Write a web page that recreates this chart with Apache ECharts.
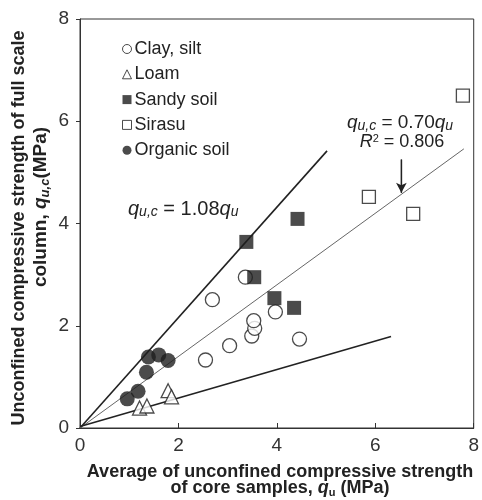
<!DOCTYPE html>
<html>
<head>
<meta charset="utf-8">
<script src="https://cdn.jsdelivr.net/npm/echarts@6/dist/echarts.min.js"></script>
<style>
html,body{margin:0;padding:0;background:#fff;}
#chart{width:482px;height:500px;}
</style>
</head>
<body>
<div id="chart"></div>
<script>
// ---- data ----
const xTicks = [0, 2, 4, 6, 8];
const yTicks = [0, 2, 4, 6, 8];

const clayX = [2.55, 3.04, 2.69, 3.36, 3.49, 3.55, 3.53, 3.97, 4.46];
const clayY = [1.33, 1.61, 2.51, 2.95, 1.80, 1.95, 2.10, 2.27, 1.74];

const loamX = [1.21, 1.36, 1.79, 1.86];
const loamY = [0.39, 0.43, 0.73, 0.61];

const sandyX = [3.38, 3.54, 3.95, 4.35, 4.42];
const sandyY = [3.64, 2.95, 2.54, 2.35, 4.09];

const sirasuX = [5.87, 6.77, 7.78];
const sirasuY = [4.52, 4.19, 6.50];

const organicX = [0.96, 1.18, 1.35, 1.39, 1.60, 1.79];
const organicY = [0.57, 0.72, 1.09, 1.39, 1.43, 1.32];

const upperLineX = [0, 5.02];
const upperLineY = [0, 5.42];
const fitLineX = [0, 7.80];
const fitLineY = [0, 5.46];
const lowerLineX = [0, 6.32];
const lowerLineY = [0.03, 1.79];

const arrowX = [6.53, 6.53];
const arrowY = [5.25, 4.60];

const seriesNames = ['Clay, silt', 'Loam', 'Sandy soil', 'Sirasu', 'Organic soil'];

// ---- build ----
const pairs = (xs, ys) => xs.map((x, i) => [x, ys[i]]);
const INK = '#1e1e1e';
const FONT = '"Liberation Sans", Arial, sans-serif';

const chart = echarts.init(document.getElementById('chart'), null, {renderer: 'canvas'});

const openStyle = {color: '#fff', borderColor: INK, borderWidth: 1.3};
const fillStyle = {color: INK, borderColor: INK, borderWidth: 0};

const option = {
  backgroundColor: '#fff',
  animation: false,
  textStyle: {fontFamily: FONT},
  grid: {left: 80, right: 5, top: 19, bottom: 72, show: true, borderColor: '#333', borderWidth: 1, containLabel: false},
  xAxis: {
    type: 'value', min: xTicks[0], max: xTicks[xTicks.length - 1], interval: 2,
    axisLine: {show: true, lineStyle: {color: '#333', width: 1}},
    axisTick: {show: true, inside: true, length: 5, lineStyle: {color: '#333'}},
    axisLabel: {fontSize: 19, color: '#333', margin: 8, fontFamily: FONT},
    splitLine: {show: false}
  },
  yAxis: {
    type: 'value', min: yTicks[0], max: yTicks[yTicks.length - 1], interval: 2,
    axisLine: {show: true, lineStyle: {color: '#333', width: 1}},
    axisTick: {show: true, inside: false, length: 4, lineStyle: {color: '#333'}},
    axisLabel: {fontSize: 19, color: '#333', margin: 11, fontFamily: FONT},
    splitLine: {show: false}
  },
  legend: {
    orient: 'vertical', left: 117, top: 35,
    itemWidth: 9, itemHeight: 9, itemGap: 7.3,
    textStyle: {fontSize: 18, color: '#222', fontFamily: FONT, padding: [0, 0, 0, -2]},
    data: [
      {name: seriesNames[0], icon: 'circle', itemStyle: {color: '#fff', borderColor: INK, borderWidth: 1}},
      {name: seriesNames[1], icon: 'triangle', itemStyle: {color: '#fff', borderColor: INK, borderWidth: 1}},
      {name: seriesNames[2], icon: 'rect', itemStyle: {color: INK, borderWidth: 0}},
      {name: seriesNames[3], icon: 'rect', itemStyle: {color: '#fff', borderColor: INK, borderWidth: 1}},
      {name: seriesNames[4], icon: 'circle', itemStyle: {color: INK, borderWidth: 0}}
    ]
  },
  series: [
    {
      name: 'upper', type: 'line', data: pairs(upperLineX, upperLineY), showSymbol: false, symbol: 'none',
      lineStyle: {color: '#222', width: 1.6}, silent: true, z: 1
    },
    {
      name: 'fit', type: 'line', data: pairs(fitLineX, fitLineY), showSymbol: false, symbol: 'none',
      lineStyle: {color: '#666', width: 1}, silent: true, z: 1
    },
    {
      name: 'lower', type: 'line', data: pairs(lowerLineX, lowerLineY), showSymbol: false, symbol: 'none',
      lineStyle: {color: '#222', width: 1.6}, silent: true, z: 1
    },
    {
      name: 'arrow', type: 'line', data: pairs(arrowX, arrowY), showSymbol: false, symbol: 'none',
      lineStyle: {color: '#222', width: 1.3}, silent: true, z: 1,
      markLine: {
        silent: true, symbol: ['none', 'arrow'], symbolSize: [8, 10],
        lineStyle: {color: '#222', width: 1.3, type: 'solid'}, label: {show: false},
        data: [[{coord: [arrowX[0], arrowY[0]]}, {coord: [arrowX[1], arrowY[1]]}]]
      }
    },
    {
      name: seriesNames[0], type: 'scatter', data: pairs(clayX, clayY), symbol: 'circle', symbolSize: 14,
      itemStyle: openStyle, z: 3
    },
    {
      name: seriesNames[1], type: 'scatter', data: pairs(loamX, loamY), symbol: 'triangle', symbolSize: 14,
      itemStyle: openStyle, z: 3
    },
    {
      name: seriesNames[2], type: 'scatter', data: pairs(sandyX, sandyY), symbol: 'rect', symbolSize: 14,
      itemStyle: fillStyle, z: 4
    },
    {
      name: seriesNames[3], type: 'scatter', data: pairs(sirasuX, sirasuY), symbol: 'rect', symbolSize: 13,
      itemStyle: openStyle, z: 3
    },
    {
      name: seriesNames[4], type: 'scatter', data: pairs(organicX, organicY), symbol: 'circle', symbolSize: 15,
      itemStyle: fillStyle, z: 3
    }
  ],
  graphic: [
    // y axis title
    {
      type: 'text', x: 19, y: 228, rotation: Math.PI / 2, z: 10,
      style: {text: 'Unconfined compressive strength of full scale', font: 'bold 18px ' + FONT, fill: '#222', align: 'center', verticalAlign: 'middle'}
    },
    {
      type: 'text', x: 41, y: 207, rotation: Math.PI / 2, z: 10,
      style: {
        text: '{a|column, }{q|q}{s|u,c}{a|(MPa)}',
        align: 'center', verticalAlign: 'middle',
        rich: {
          a: {font: 'bold 19px ' + FONT, fill: '#222', lineHeight: 22, verticalAlign: 'middle'},
          q: {font: 'italic bold 19px ' + FONT, fill: '#222', lineHeight: 22, verticalAlign: 'middle'},
          s: {font: 'italic bold 13px ' + FONT, fill: '#222', lineHeight: 13, verticalAlign: 'bottom'}
        }
      }
    },
    // x axis title
    {
      type: 'text', x: 280, y: 472, z: 10,
      style: {text: 'Average of unconfined compressive strength', font: 'bold 18px ' + FONT, fill: '#222', align: 'center', verticalAlign: 'middle'}
    },
    {
      type: 'text', x: 280, y: 488, z: 10,
      style: {
        text: '{a|of core samples, }{q|q}{s|u}{a| (MPa)}',
        align: 'center', verticalAlign: 'middle',
        rich: {
          a: {font: 'bold 18px ' + FONT, fill: '#222', lineHeight: 20, verticalAlign: 'middle'},
          q: {font: 'italic bold 18px ' + FONT, fill: '#222', lineHeight: 20, verticalAlign: 'middle'},
          s: {font: 'bold 11px ' + FONT, fill: '#222', lineHeight: 11, verticalAlign: 'bottom'}
        }
      }
    },
    // annotations
    {
      type: 'text', x: 400, y: 123, z: 10,
      style: {
        text: '{q|q}{s|u,c}{a| = 0.70}{q|q}{s|u}',
        align: 'center', verticalAlign: 'middle',
        rich: {
          a: {font: '19px ' + FONT, fill: '#222', lineHeight: 20, verticalAlign: 'middle'},
          q: {font: 'italic 19px ' + FONT, fill: '#222', lineHeight: 20, verticalAlign: 'middle'},
          s: {font: 'italic 14px ' + FONT, fill: '#222', lineHeight: 13, verticalAlign: 'bottom'}
        }
      }
    },
    {
      type: 'text', x: 402, y: 142, z: 10,
      style: {
        text: '{q|R}{p|2}{a| = 0.806}',
        align: 'center', verticalAlign: 'middle',
        rich: {
          a: {font: '18px ' + FONT, fill: '#222', lineHeight: 18, verticalAlign: 'middle'},
          q: {font: 'italic 18px ' + FONT, fill: '#222', lineHeight: 18, verticalAlign: 'middle'},
          p: {font: '11px ' + FONT, fill: '#222', lineHeight: 11, verticalAlign: 'top'}
        }
      }
    },
    {
      type: 'text', x: 128, y: 209, z: 10,
      style: {
        text: '{q|q}{s|u,c}{a| = 1.08}{q|q}{s|u}',
        align: 'left', verticalAlign: 'middle',
        rich: {
          a: {font: '20px ' + FONT, fill: '#222', lineHeight: 20, verticalAlign: 'middle'},
          q: {font: 'italic 20px ' + FONT, fill: '#222', lineHeight: 20, verticalAlign: 'middle'},
          s: {font: 'italic 14px ' + FONT, fill: '#222', lineHeight: 13, verticalAlign: 'bottom'}
        }
      }
    }
  ]
};
chart.setOption(option);
</script>
</body>
</html>
